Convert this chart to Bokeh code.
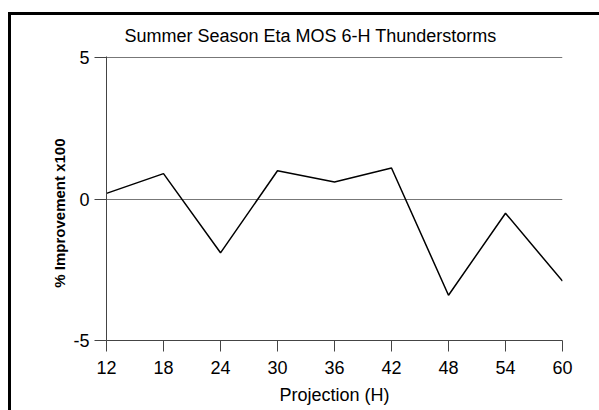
from bokeh.plotting import figure
from bokeh.layouts import column
from bokeh.models import Range1d, FixedTicker
from bokeh.embed import file_html
from bokeh.resources import INLINE

projection = [12, 18, 24, 30, 36, 42, 48, 54, 60]
improvement = [0.2, 0.9, -1.9, 1.0, 0.6, 1.1, -3.4, -0.5, -2.9]
x_ticks = [12, 18, 24, 30, 36, 42, 48, 54, 60]
y_ticks = [-5, 0, 5]
y_tick_labels = {-5: "-5", 0: "0", 5: "5"}
title_text = "Summer Season Eta MOS 6-H Thunderstorms"
x_label = "Projection (H)"
y_label = "% Improvement x100"

FONT = "Liberation Sans"

p = figure(width=591, height=398, output_backend="svg", toolbar_location=None,
           x_range=Range1d(12, 60), y_range=Range1d(-5, 5.04),
           min_border_left=98, min_border_top=44, min_border_right=37, min_border_bottom=70,
           border_fill_color=None, outline_line_color=None, margin=0)

p.title.text = title_text
p.title.text_font = FONT
p.title.text_font_size = "18px"
p.title.text_font_style = "normal"
p.title.text_color = "black"
p.title.align = "left"
p.title.offset = 18
p.title.standoff = 21

p.line(projection, improvement, line_color="black", line_width=1.5)

p.xgrid.visible = False
p.ygrid.ticker = FixedTicker(ticks=y_ticks)
p.ygrid.grid_line_color = "#777777"
p.ygrid.grid_line_width = 1

p.xaxis.ticker = FixedTicker(ticks=x_ticks)
p.yaxis.ticker = FixedTicker(ticks=y_ticks)
p.yaxis.major_label_overrides = y_tick_labels
for ax in (p.xaxis[0], p.yaxis[0]):
    ax.axis_line_color = "#444444"
    ax.major_tick_line_color = "#444444"
    ax.major_tick_in = 0
    ax.minor_tick_line_color = None
    ax.major_label_text_font = FONT
    ax.major_label_text_font_size = "18px"
    ax.major_label_text_color = "black"
    ax.axis_label_text_font = FONT
    ax.axis_label_text_color = "black"

p.xaxis.major_tick_out = 11
p.yaxis.major_tick_out = 12
p.xaxis.major_label_standoff = 9
p.yaxis.major_label_standoff = 5

p.xaxis.axis_label = x_label
p.xaxis.axis_label_text_font_size = "18px"
p.xaxis.axis_label_text_font_style = "normal"
p.xaxis.axis_label_standoff = 8

# trailing no-break spaces shift the centred title down, as in the reference
p.yaxis.axis_label = y_label + "\u00a0" * 7
p.yaxis.axis_label_text_font_size = "15px"
p.yaxis.axis_label_text_font_style = "bold"
p.yaxis.axis_label_standoff = 2

page = column(p, width=591, height=398, margin=(12, 0, 0, 8),
              styles={"box-shadow": "inset 3px 3px 0 0 black"})

open("out.html", "w").write(file_html(page, INLINE))
